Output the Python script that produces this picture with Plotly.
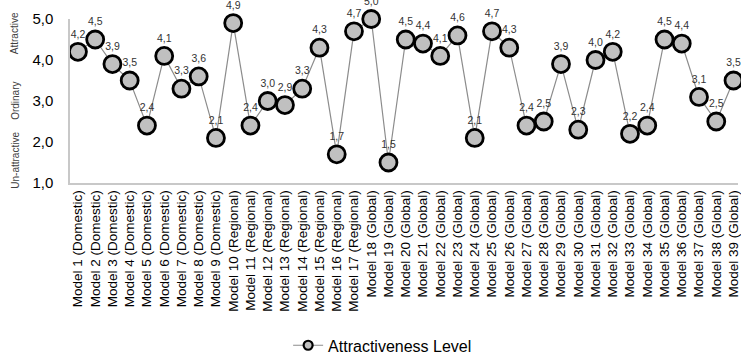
import plotly.graph_objects as go

# Attractiveness scores per model (1 = un-attractive ... 5 = attractive)
models = [
    "Model 1 (Domestic)", "Model 2 (Domestic)", "Model 3 (Domestic)",
    "Model 4 (Domestic)", "Model 5 (Domestic)", "Model 6 (Domestic)",
    "Model 7 (Domestic)", "Model 8 (Domestic)", "Model 9 (Domestic)",
    "Model 10 (Regional)", "Model 11 (Regional)", "Model 12 (Regional)",
    "Model 13 (Regional)", "Model 14 (Regional)", "Model 15 (Regional)",
    "Model 16 (Regional)", "Model 17 (Regional)",
    "Model 18 (Global)", "Model 19 (Global)", "Model 20 (Global)",
    "Model 21 (Global)", "Model 22 (Global)", "Model 23 (Global)",
    "Model 24 (Global)", "Model 25 (Global)", "Model 26 (Global)",
    "Model 27 (Global)", "Model 28 (Global)", "Model 29 (Global)",
    "Model 30 (Global)", "Model 31 (Global)", "Model 32 (Global)",
    "Model 33 (Global)", "Model 34 (Global)", "Model 35 (Global)",
    "Model 36 (Global)", "Model 37 (Global)", "Model 38 (Global)",
    "Model 39 (Global)",
]
attractiveness = [
    4.2, 4.5, 3.9, 3.5, 2.4, 4.1, 3.3, 3.6, 2.1,
    4.9, 2.4, 3.0, 2.9, 3.3, 4.3, 1.7, 4.7,
    5.0, 1.5, 4.5, 4.4, 4.1, 4.6, 2.1, 4.7, 4.3, 2.4, 2.5, 3.9,
    2.3, 4.0, 4.2, 2.2, 2.4, 4.5, 4.4, 3.1, 2.5, 3.5,
]
y_ticks = [1, 2, 3, 4, 5]
level_names = ["Attractive", "Ordinary", "Un-attractive"]
level_centres = [4.66, 3.01, 1.55]

FONT = "Liberation Sans, Arial, sans-serif"
LINE = dict(color="#8c8c8c", width=1.2)
PLOT_LEFT, PLOT_WIDTH = 70, 671

fig = go.Figure()
fig.add_trace(go.Scatter(
    x=models,
    y=attractiveness,
    mode="lines+markers+text",
    name="Attractiveness Level",
    showlegend=False,
    line=LINE,
    marker=dict(size=17, color="#c0c0c0", line=dict(color="#000000", width=2.8)),
    texttemplate="%{y:.1f}",
    textposition="top center",
    textfont=dict(family=FONT, size=10.5, color="#333333"),
    cliponaxis=False,
))
# compact legend entry for the series
fig.add_trace(go.Scatter(
    x=[None], y=[None],
    mode="lines+markers",
    name="Attractiveness Level",
    line=LINE,
    marker=dict(size=9, color="#c0c0c0", line=dict(color="#000000", width=2.2)),
))

for name, yc in zip(level_names, level_centres):
    fig.add_annotation(
        x=(15 - PLOT_LEFT) / PLOT_WIDTH, xref="paper", xanchor="center",
        y=yc, yref="y", yanchor="middle",
        text=name, textangle=-90, showarrow=False,
        font=dict(family=FONT, size=10, color="#404040"),
    )

fig.update_layout(
    width=741, height=363,
    margin=dict(l=PLOT_LEFT, r=0, t=19, b=178),
    paper_bgcolor="white", plot_bgcolor="white",
    separators=", ",
    font=dict(family=FONT, color="#000000"),
    showlegend=True,
    legend=dict(
        orientation="h", x=0.468, xanchor="center", y=-0.99, yanchor="middle",
        font=dict(family=FONT, size=16, color="#000000"),
        itemwidth=30,
    ),
    xaxis=dict(
        type="category",
        range=[-0.46, 38.26],
        tickangle=-90,
        tickfont=dict(family=FONT, size=13.5, color="#000000"),
        showgrid=False, zeroline=False,
        showline=True, linecolor="#c8c8c8", linewidth=1.5,
        ticks="",
    ),
    yaxis=dict(
        range=[1, 5],
        tickvals=y_ticks,
        tickformat=".1f",
        tickfont=dict(family=FONT, size=15, color="#000000"),
        showgrid=False, zeroline=False,
        showline=True, linecolor="#c8c8c8", linewidth=1.5,
        ticks="", ticklabelstandoff=12,
    ),
)

fig.write_html("out.html")
